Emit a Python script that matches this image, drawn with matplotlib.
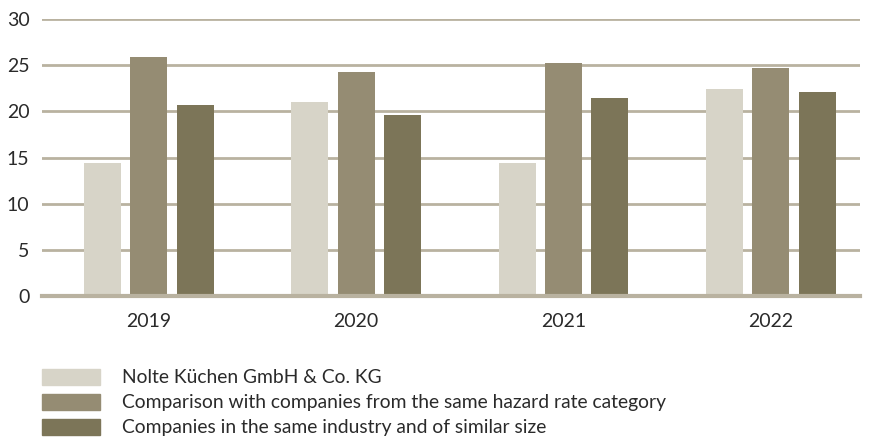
import matplotlib
matplotlib.use("Agg")
import matplotlib.pyplot as plt
from matplotlib.patches import Rectangle
import numpy as np

years = ["2019", "2020", "2021", "2022"]
series_names = ["Nolte Küchen GmbH & Co. KG",
                "Comparison with companies from the same hazard rate category",
                "Companies in the same industry and of similar size"]
nolte = [14.4, 21.0, 14.4, 22.4]
hazard = [25.9, 24.3, 25.2, 24.7]
industry = [20.7, 19.6, 21.4, 22.1]
yticks = [0, 5, 10, 15, 20, 25, 30]

colors = ["#d7d4c8", "#958c73", "#7c7558"]
grid_col = "#b9b2a0"
text_col = "#2a2a2a"

plt.rcParams['font.family'] = ['Lato', 'DejaVu Sans']

fig = plt.figure(figsize=(8.75, 4.4), dpi=100)
ax = fig.add_axes([42/875, 1-296/440, (860-42)/875, (296-19)/440])

x = np.arange(len(years))
off = 0.2235
w = 0.178
for i, vals in enumerate([nolte, hazard, industry]):
    ax.bar(x + (i-1)*off, vals, width=w, color=colors[i], zorder=3, linewidth=0)

ax.set_xlim(-0.515, 3.43)
ax.set_ylim(0, 30)
ax.set_yticks(yticks)
ax.set_yticklabels([str(t) for t in yticks], fontsize=14, color=text_col)
ax.set_xticks(x)
ax.set_xticklabels(years, fontsize=14, color=text_col)
ax.tick_params(axis='both', length=0)
ax.tick_params(axis='y', pad=9)
ax.tick_params(axis='x', pad=12)
for t in yticks[1:]:
    ax.axhline(t, color=grid_col, lw=2, zorder=1)
ax.axhline(0, color=grid_col, lw=3, zorder=4, clip_on=False)
for s in ax.spines.values():
    s.set_visible(False)

# legend
rows_y = [377, 402, 427]
for i, yy in enumerate(rows_y):
    fig.patches.append(Rectangle((42/875, 1-(yy+8)/440), 58/875, 16/440,
                                 transform=fig.transFigure, color=colors[i]))
    fig.text(122/875, 1-yy/440, series_names[i], fontsize=13.9, color=text_col,
             va='center', ha='left')

fig.savefig("out.png", dpi=100)
